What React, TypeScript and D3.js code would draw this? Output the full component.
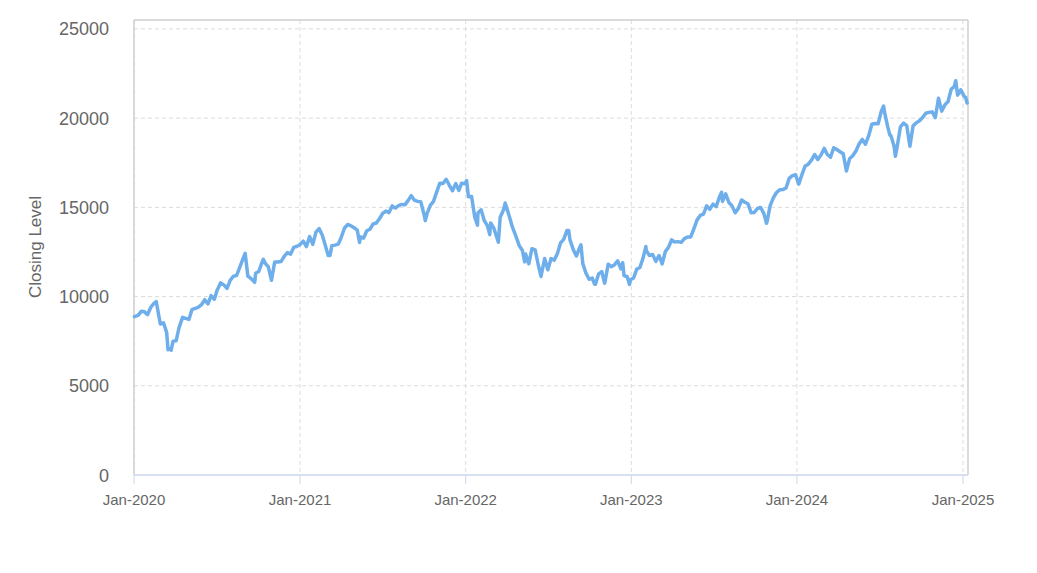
import * as d3 from "d3";

// weekly closes (plus a few daily extremes)
const closes2020: [string, number][] = [
  ["2020-01-02", 8873], ["2020-01-10", 8950], ["2020-01-17", 9174], ["2020-01-24", 9144],
  ["2020-01-31", 8992], ["2020-02-07", 9402], ["2020-02-14", 9623], ["2020-02-19", 9718],
  ["2020-02-21", 9446], ["2020-02-28", 8462], ["2020-03-06", 8530], ["2020-03-13", 7984],
  ["2020-03-16", 7020], ["2020-03-20", 7069], ["2020-03-23", 6995], ["2020-03-27", 7503],
  ["2020-04-03", 7528], ["2020-04-09", 8230], ["2020-04-17", 8833], ["2020-04-24", 8781],
  ["2020-05-01", 8718], ["2020-05-08", 9285], ["2020-05-15", 9331], ["2020-05-22", 9413],
  ["2020-05-29", 9555], ["2020-06-05", 9824], ["2020-06-12", 9589], ["2020-06-19", 10057],
  ["2020-06-26", 9849], ["2020-07-02", 10341], ["2020-07-10", 10768], ["2020-07-17", 10656],
  ["2020-07-24", 10461], ["2020-07-31", 10905], ["2020-08-07", 11139], ["2020-08-14", 11178],
  ["2020-08-21", 11631], ["2020-08-28", 12111], ["2020-09-02", 12420], ["2020-09-08", 11140],
  ["2020-09-11", 11088], ["2020-09-18", 10939], ["2020-09-23", 10800], ["2020-09-25", 11306],
  ["2020-10-02", 11404], ["2020-10-09", 11918], ["2020-10-12", 12088], ["2020-10-16", 11873],
  ["2020-10-23", 11667], ["2020-10-30", 10912], ["2020-11-06", 11932], ["2020-11-13", 11937],
  ["2020-11-20", 11962], ["2020-11-27", 12258], ["2020-12-04", 12465], ["2020-12-11", 12378],
  ["2020-12-18", 12756], ["2020-12-24", 12804], ["2020-12-31", 12888],
];

const closes2021: [string, number][] = [
  ["2021-01-08", 13105], ["2021-01-15", 12803], ["2021-01-22", 13367], ["2021-01-29", 12925],
  ["2021-02-05", 13610], ["2021-02-12", 13808], ["2021-02-19", 13441], ["2021-02-26", 12838],
  ["2021-03-04", 12300], ["2021-03-08", 12299], ["2021-03-12", 12854], ["2021-03-19", 12882],
  ["2021-03-26", 12936], ["2021-04-01", 13271], ["2021-04-09", 13845], ["2021-04-16", 14041],
  ["2021-04-23", 13965], ["2021-04-30", 13860], ["2021-05-07", 13720], ["2021-05-12", 13032],
  ["2021-05-14", 13344], ["2021-05-21", 13277], ["2021-05-28", 13687], ["2021-06-04", 13774],
  ["2021-06-11", 14069], ["2021-06-18", 14121], ["2021-06-25", 14361], ["2021-07-02", 14662],
  ["2021-07-09", 14788], ["2021-07-16", 14707], ["2021-07-23", 15079], ["2021-07-30", 14959],
  ["2021-08-06", 15096], ["2021-08-13", 15166], ["2021-08-20", 15141], ["2021-08-27", 15376],
  ["2021-09-03", 15653], ["2021-09-10", 15402], ["2021-09-17", 15336], ["2021-09-24", 15310],
  ["2021-10-01", 14629], ["2021-10-04", 14255], ["2021-10-08", 14667], ["2021-10-15", 15116],
  ["2021-10-22", 15337], ["2021-10-29", 15850], ["2021-11-05", 16356], ["2021-11-12", 16337],
  ["2021-11-19", 16573], ["2021-11-26", 16238], ["2021-12-03", 15930], ["2021-12-10", 16331],
  ["2021-12-17", 15949], ["2021-12-23", 16353], ["2021-12-31", 16320],
];

const closes2022: [string, number][] = [
  ["2022-01-03", 16501], ["2022-01-07", 15600], ["2022-01-14", 15611], ["2022-01-21", 14446],
  ["2022-01-27", 14000], ["2022-01-28", 14681], ["2022-02-04", 14860], ["2022-02-11", 14252],
  ["2022-02-18", 13965], ["2022-02-23", 13470], ["2022-02-25", 14124], ["2022-03-04", 13838],
  ["2022-03-14", 13046], ["2022-03-18", 14441], ["2022-03-25", 14837], ["2022-03-29", 15240],
  ["2022-04-01", 15000], ["2022-04-08", 14421], ["2022-04-14", 13888], ["2022-04-22", 13353],
  ["2022-04-29", 12855], ["2022-05-06", 12579], ["2022-05-11", 11944], ["2022-05-13", 12387],
  ["2022-05-20", 11835], ["2022-05-27", 12682], ["2022-06-03", 12621], ["2022-06-10", 11770],
  ["2022-06-16", 11128], ["2022-06-17", 11265], ["2022-06-24", 12132], ["2022-07-01", 11504],
  ["2022-07-08", 12125], ["2022-07-15", 12042], ["2022-07-22", 12396], ["2022-07-29", 13006],
  ["2022-08-05", 13207], ["2022-08-12", 13696], ["2022-08-16", 13700], ["2022-08-19", 13160],
  ["2022-08-26", 12642], ["2022-09-02", 12271], ["2022-09-09", 12739], ["2022-09-12", 12900],
  ["2022-09-16", 11861], ["2022-09-23", 11311], ["2022-09-30", 10971], ["2022-10-07", 11038],
  ["2022-10-12", 10691], ["2022-10-14", 10692], ["2022-10-21", 11273], ["2022-10-28", 11395],
  ["2022-11-03", 10750], ["2022-11-04", 10824], ["2022-11-11", 11811], ["2022-11-18", 11676],
  ["2022-11-25", 11785], ["2022-12-02", 11997], ["2022-12-09", 11548], ["2022-12-13", 11900],
  ["2022-12-16", 11173], ["2022-12-23", 11110], ["2022-12-28", 10679], ["2022-12-30", 10940],
];

const closes2023: [string, number][] = [
  ["2023-01-06", 11040], ["2023-01-13", 11541], ["2023-01-20", 11631], ["2023-01-27", 12167],
  ["2023-02-02", 12804], ["2023-02-03", 12574], ["2023-02-10", 12304], ["2023-02-17", 12359],
  ["2023-02-24", 11972], ["2023-03-03", 12303], ["2023-03-10", 11830], ["2023-03-17", 12520],
  ["2023-03-24", 12767], ["2023-03-31", 13181], ["2023-04-06", 13062], ["2023-04-14", 13079],
  ["2023-04-21", 13038], ["2023-04-28", 13246], ["2023-05-05", 13339], ["2023-05-12", 13340],
  ["2023-05-19", 13809], ["2023-05-26", 14298], ["2023-06-02", 14547], ["2023-06-09", 14615],
  ["2023-06-16", 15083], ["2023-06-23", 14891], ["2023-06-30", 15179], ["2023-07-07", 15038],
  ["2023-07-14", 15565], ["2023-07-19", 15841], ["2023-07-21", 15332], ["2023-07-28", 15752],
  ["2023-08-04", 15275], ["2023-08-11", 15083], ["2023-08-18", 14695], ["2023-08-25", 14942],
  ["2023-09-01", 15413], ["2023-09-08", 15285], ["2023-09-15", 15203], ["2023-09-22", 14701],
  ["2023-09-29", 14715], ["2023-10-06", 14935], ["2023-10-13", 14992], ["2023-10-20", 14662],
  ["2023-10-26", 14110], ["2023-10-27", 14180], ["2023-11-03", 15099], ["2023-11-10", 15529],
  ["2023-11-17", 15832], ["2023-11-24", 15982], ["2023-12-01", 15997], ["2023-12-08", 16085],
  ["2023-12-15", 16624], ["2023-12-22", 16778], ["2023-12-29", 16826],
];

const closes2024: [string, number][] = [
  ["2024-01-05", 16305], ["2024-01-12", 16832], ["2024-01-19", 17314], ["2024-01-26", 17421],
  ["2024-02-02", 17642], ["2024-02-09", 17963], ["2024-02-16", 17685], ["2024-02-23", 17937],
  ["2024-03-01", 18302], ["2024-03-08", 17963], ["2024-03-15", 17808], ["2024-03-22", 18340],
  ["2024-03-28", 18255], ["2024-04-05", 18118], ["2024-04-12", 18003], ["2024-04-19", 17037],
  ["2024-04-26", 17718], ["2024-05-03", 17890], ["2024-05-10", 18161], ["2024-05-17", 18546],
  ["2024-05-24", 18809], ["2024-05-31", 18537], ["2024-06-07", 19000], ["2024-06-14", 19660],
  ["2024-06-21", 19700], ["2024-06-28", 19683], ["2024-07-05", 20392], ["2024-07-10", 20676],
  ["2024-07-12", 20331], ["2024-07-19", 19523], ["2024-07-24", 19033], ["2024-07-26", 19023],
  ["2024-08-02", 18440], ["2024-08-05", 17867], ["2024-08-09", 18413], ["2024-08-16", 19508],
  ["2024-08-23", 19720], ["2024-08-30", 19575], ["2024-09-06", 18421], ["2024-09-13", 19571],
  ["2024-09-20", 19736], ["2024-09-27", 19852], ["2024-10-04", 20035], ["2024-10-11", 20272],
  ["2024-10-18", 20324], ["2024-10-25", 20352], ["2024-11-01", 20033], ["2024-11-08", 21117],
  ["2024-11-15", 20394], ["2024-11-22", 20744], ["2024-11-29", 20930], ["2024-12-06", 21622],
  ["2024-12-13", 21780], ["2024-12-16", 22097], ["2024-12-20", 21289], ["2024-12-27", 21590],
];

const closes2025: [string, number][] = [
  ["2025-01-03", 21246], ["2025-01-07", 21150], ["2025-01-10", 20847],
];

const yTicks = [0, 5000, 10000, 15000, 20000, 25000];
const xTickDates = ["2020-01-01", "2021-01-01", "2022-01-01", "2023-01-01", "2024-01-01", "2025-01-01"];
const yTitle = "Closing Level";

const parse = d3.utcParse("%Y-%m-%d");
const fmt = d3.utcFormat("%b-%Y");

const W = 1037;
const H = 573;
const left = 134;
const right = 968;
const top = 20;
const bottom = 475;

export default function App() {
  const data = [...closes2020, ...closes2021, ...closes2022, ...closes2023, ...closes2024, ...closes2025].map(
    ([d, v]) => ({ date: parse(d) as Date, value: v })
  );

  const x = d3
    .scaleUtc()
    .domain([parse("2020-01-01") as Date, parse("2025-01-12") as Date])
    .range([left, right]);
  const y = d3.scaleLinear().domain([0, 25500]).range([bottom, top]);

  const line = d3
    .line<{ date: Date; value: number }>()
    .x((d) => x(d.date))
    .y((d) => y(d.value));

  const font = "'Liberation Sans', Arial, sans-serif";

  return (
    <svg
      width={W}
      height={H}
      style={{ position: "absolute", left: 0, top: 0, background: "#fff" }}
      fontFamily={font}
    >
      {/* horizontal grid */}
      {yTicks
        .filter((t) => t > 0)
        .map((t) => (
          <line key={t} x1={left} x2={right} y1={y(t)} y2={y(t)} stroke="#dcdcdc" strokeDasharray="4,3" />
        ))}
      {/* vertical grid */}
      {xTickDates.map((s) => {
        const xp = x(parse(s) as Date);
        return (
          <line key={s} x1={xp} x2={xp} y1={top} y2={bottom} stroke="#dcdcdc" strokeDasharray="4,3" />
        );
      })}

      {/* plot border */}
      <line x1={left} x2={left} y1={top} y2={bottom} stroke="#cfcfcf" strokeWidth={1.5} />
      <line x1={left} x2={right} y1={top} y2={top} stroke="#cfcfcf" strokeWidth={1.5} />
      <line x1={right} x2={right} y1={top} y2={bottom} stroke="#cfcfcf" strokeWidth={1.5} />
      <line x1={left} x2={right} y1={bottom} y2={bottom} stroke="#ccd6eb" strokeWidth={1.5} />

      {/* x ticks and labels */}
      {xTickDates.map((s) => {
        const d = parse(s) as Date;
        const xp = x(d);
        return (
          <g key={s}>
            <line x1={xp} x2={xp} y1={bottom} y2={bottom + 9} stroke="#ccd6eb" strokeWidth={1} />
            <text x={xp} y={505} textAnchor="middle" fontSize={15} fill="#666">
              {fmt(d)}
            </text>
          </g>
        );
      })}

      {/* y labels */}
      {yTicks.map((t) => (
        <text key={t} x={109} y={y(t) + 6.5} textAnchor="end" fontSize={18} fill="#666">
          {t}
        </text>
      ))}

      <text
        transform={`translate(${41},${247}) rotate(-90)`}
        textAnchor="middle"
        fontSize={17}
        fill="#666"
      >
        {yTitle}
      </text>

      <path
        d={line(data) ?? ""}
        fill="none"
        stroke="#6eaeea"
        strokeWidth={3.5}
        strokeLinejoin="round"
        strokeLinecap="round"
      />
    </svg>
  );
}
